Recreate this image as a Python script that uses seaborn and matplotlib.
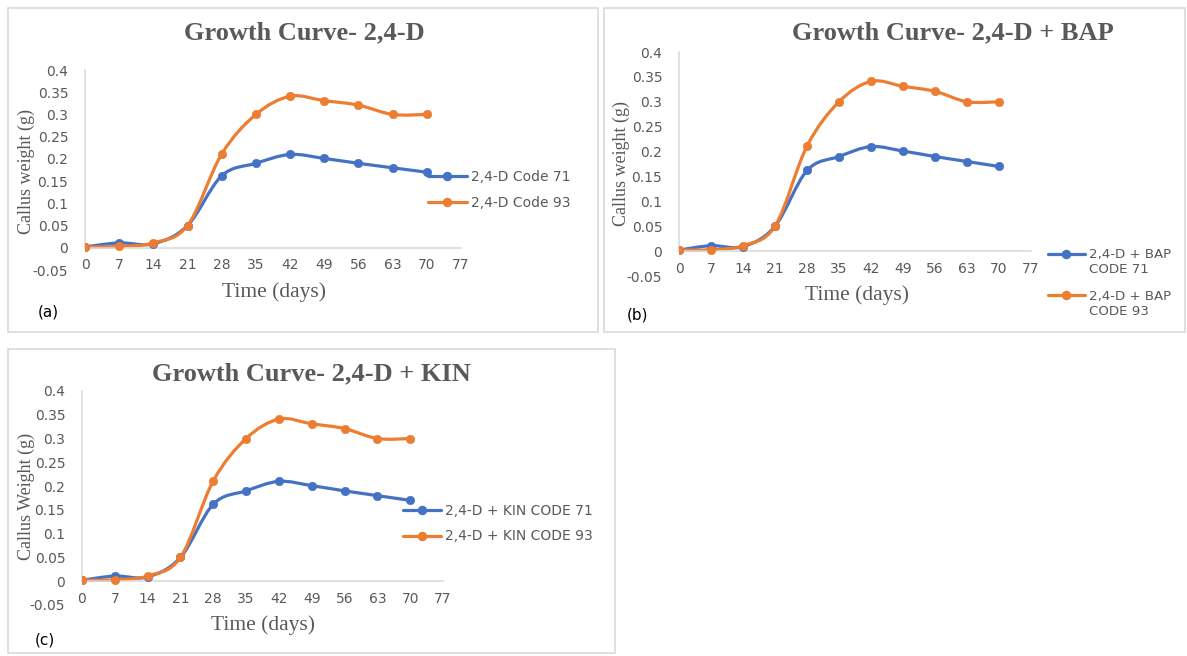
import numpy as np
import pandas as pd
import matplotlib
matplotlib.use("Agg")
import matplotlib.pyplot as plt
import seaborn as sns
from matplotlib.path import Path
from matplotlib.patches import PathPatch, Rectangle
from matplotlib.lines import Line2D
from matplotlib.legend_handler import HandlerLine2D

# ---------------- data ----------------
days = [0, 7, 14, 21, 28, 35, 42, 49, 56, 63, 70]
code71 = [0.002, 0.011, 0.009, 0.05, 0.162, 0.19, 0.21, 0.201, 0.19, 0.18, 0.17]
code93 = [0.002, 0.003, 0.011, 0.05, 0.211, 0.30, 0.341, 0.331, 0.321, 0.30, 0.30]
x_ticks = [0, 7, 14, 21, 28, 35, 42, 49, 56, 63, 70, 77]
y_ticks = [-0.05, 0, 0.05, 0.1, 0.15, 0.2, 0.25, 0.3, 0.35, 0.4]
y_tick_labels = ["-0.05", "0", "0.05", "0.1", "0.15", "0.2", "0.25", "0.3", "0.35", "0.4"]
titles = ["Growth Curve- 2,4-D", "Growth Curve- 2,4-D + BAP", "Growth Curve- 2,4-D + KIN"]
ylabels = ["Callus weight (g)", "Callus weight (g)", "Callus Weight (g)"]
xlabel = "Time (days)"
legend_labels = [
    ["2,4-D Code 71", "2,4-D Code 93"],
    ["2,4-D + BAP\nCODE 71", "2,4-D + BAP\nCODE 93"],
    ["2,4-D + KIN CODE 71", "2,4-D + KIN CODE 93"],
]
panel_tags = ["(a)", "(b)", "(c)"]

BLUE = "#4472C4"
ORANGE = "#ED7D31"
GRAY_TXT = "#595959"
GRAY_LN = "#D9D9D9"

sns.set_theme(style="white")
plt.rcParams["font.family"] = ["DejaVu Sans"]

W, H = 1187, 656
fig = plt.figure(figsize=(W / 100, H / 100), dpi=100)
fig.patch.set_facecolor("white")


def fx(p):
    return p / W


def fy(p):
    return 1 - p / H


def smooth_path(x, y):
    x = np.asarray(x, float)
    y = np.asarray(y, float)
    px = np.concatenate([[x[0]], x, [x[-1]]])
    py = np.concatenate([[y[0]], y, [y[-1]]])
    verts = [(x[0], y[0])]
    codes = [Path.MOVETO]
    for i in range(len(x) - 1):
        p0 = np.array([px[i], py[i]])
        p1 = np.array([px[i + 1], py[i + 1]])
        p2 = np.array([px[i + 2], py[i + 2]])
        p3 = np.array([px[i + 3], py[i + 3]])
        c1 = p1 + (p2 - p0) / 6.0
        c2 = p2 - (p3 - p1) / 6.0
        verts += [tuple(c1), tuple(c2), tuple(p2)]
        codes += [Path.CURVE4] * 3
    return Path(verts, codes)


class TopHandler(HandlerLine2D):
    def __init__(self, shift=0, **kw):
        super().__init__(**kw)
        self.shift = shift

    def create_artists(self, legend, orig_handle, xdescent, ydescent, width,
                       height, fontsize, trans):
        return super().create_artists(legend, orig_handle, xdescent,
                                      ydescent - 2 * self.shift, width, height,
                                      fontsize, trans)


# panel frames (px): x0, y0, x1, y1
frames = [(8, 8, 598, 332), (604, 8, 1185, 332), (8, 349, 615, 653)]
for (x0, y0, x1, y1) in frames:
    fig.add_artist(Rectangle((fx(x0), fy(y1)), fx(x1) - fx(x0), fy(y0) - fy(y1),
                             transform=fig.transFigure, fill=False,
                             edgecolor=GRAY_LN, lw=1.2))

# axes boxes (px): left, right, top(0.4), bottom(-0.05)
boxes = [(85, 461, 70, 270), (679, 1031, 52, 276), (82, 443, 391, 605)]
title_pos = [(304, 33), (953, 33), (311, 374)]
tag_pos = [(48, 312), (637, 315), (45, 640)]
ylabel_coords = [(-0.157, 0.49), (-0.165, 0.504), (-0.155, 0.505)]
xlabel_coords = [(0.503, -0.11), (0.506, -0.085), (0.501, -0.093)]
legend_cfg = [
    dict(anchor=(428, 190), hl=2.8, fs=10, ls=0.85, shift=0),
    dict(anchor=(1048, 283), hl=2.75, fs=9.6, ls=0.98, shift=6.2),
    dict(anchor=(403, 523.5), hl=2.75, fs=10, ls=0.85, shift=0),
]

df = pd.DataFrame({"day": days, "c71": code71, "c93": code93})

for k in range(3):
    l, r, t, b = boxes[k]
    ax = fig.add_axes([fx(l), fy(b), fx(r) - fx(l), fy(t) - fy(b)])
    ax.set_facecolor("none")

    for col, color in (("c71", BLUE), ("c93", ORANGE)):
        ax.add_patch(PathPatch(smooth_path(df["day"], df[col]), fill=False,
                               edgecolor=color, lw=2.3, capstyle="round",
                               joinstyle="round", zorder=2))
        sns.scatterplot(data=df, x="day", y=col, color=color, edgecolor=color,
                        s=36, linewidth=0.5, ax=ax, zorder=3, legend=False)

    ax.set_xlim(0, 77)
    ax.set_ylim(-0.05, 0.4)
    ax.set_xticks(x_ticks)
    ax.set_xticklabels([str(v) for v in x_ticks])
    ax.set_yticks(y_ticks)
    ax.set_yticklabels(y_tick_labels)
    for s in ("top", "right"):
        ax.spines[s].set_visible(False)
    ax.spines["bottom"].set_position(("data", 0))
    ax.spines["left"].set_bounds(0, 0.4)
    for s in ("bottom", "left"):
        ax.spines[s].set_color(GRAY_LN)
        ax.spines[s].set_linewidth(1.1)
    ax.tick_params(axis="x", direction="out", length=3.6, width=1.1,
                   color=GRAY_LN, labelcolor=GRAY_TXT, labelsize=10, pad=4)
    ax.tick_params(axis="y", direction="out", length=5.5, width=1.1,
                   color=GRAY_LN, labelcolor=GRAY_TXT, labelsize=10, pad=6.5)
    ax.yaxis.get_major_ticks()[0].tick1line.set_visible(False)
    ax.grid(False)

    ax.set_xlabel(xlabel, family="Liberation Serif", fontsize=15.5, color=GRAY_TXT)
    ax.set_ylabel(ylabels[k], family="Liberation Serif", fontsize=13, color=GRAY_TXT)
    ax.xaxis.set_label_coords(*xlabel_coords[k])
    ax.xaxis.label.set_va("center")
    ax.yaxis.set_label_coords(*ylabel_coords[k])
    ax.yaxis.label.set_va("center")

    cfg = legend_cfg[k]
    handles = [Line2D([], [], color=BLUE, lw=2.3, marker="o", markersize=5.8),
               Line2D([], [], color=ORANGE, lw=2.3, marker="o", markersize=5.8)]
    hm = {h: TopHandler(shift=cfg["shift"]) for h in handles}
    leg = ax.legend(handles, legend_labels[k], loc="center left",
                    bbox_to_anchor=(fx(cfg["anchor"][0]), fy(cfg["anchor"][1])),
                    bbox_transform=fig.transFigure, frameon=False,
                    fontsize=cfg["fs"], handlelength=cfg["hl"],
                    handletextpad=0.3, labelspacing=cfg["ls"], borderpad=0,
                    borderaxespad=0, labelcolor=GRAY_TXT, handler_map=hm)

    fig.text(fx(title_pos[k][0]), fy(title_pos[k][1]), titles[k],
             family="Liberation Serif", fontweight="bold", fontsize=19,
             color=GRAY_TXT, ha="center", va="center")
    fig.text(fx(tag_pos[k][0]), fy(tag_pos[k][1]), panel_tags[k],
             fontsize=11, color="black", ha="center", va="center")

fig.savefig("out.png", dpi=100, facecolor="white")
